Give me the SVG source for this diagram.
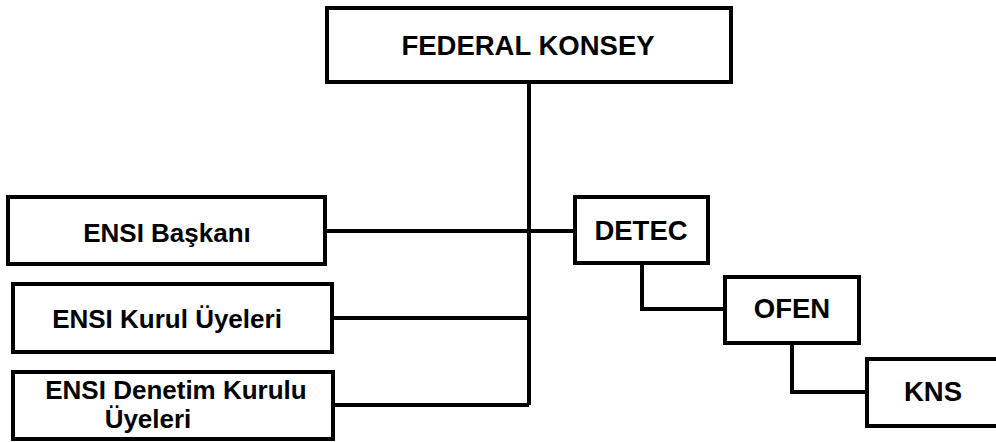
<svg xmlns="http://www.w3.org/2000/svg" width="996" height="442" viewBox="0 0 996 442">
<style>
rect{fill:#fff;stroke:#000;stroke-width:4}
.c path{fill:none;stroke:#000;stroke-width:4}
text{font-family:"Liberation Sans",Arial,sans-serif;font-weight:bold;fill:#000;text-anchor:middle}
.a{font-size:27.5px}
.b{font-size:26px}
</style>
<rect width="996" height="442" style="stroke:none"/>
<g class="c">
<path d="M529 82V405"/>
<path d="M325 231H575"/>
<path d="M332 318H529"/>
<path d="M332 405H529"/>
<path d="M642 263V309H725"/>
<path d="M792 343V392H867"/>
</g>
<g id="federal"><rect x="327" y="8" width="404" height="74"/><text class="a" x="528" y="55">FEDERAL KONSEY</text></g>
<g id="baskan"><rect x="8" y="197" width="317" height="67"/><text class="b" x="167" y="242">ENSI Başkanı</text></g>
<g id="kurul"><rect x="13" y="284" width="319" height="68"/><text class="b" x="167" y="328">ENSI Kurul Üyeleri</text></g>
<g id="denetim"><rect x="13" y="372" width="320" height="67"/><text class="b" x="176" y="399">ENSI Denetim Kurulu</text><text class="b" x="148" y="428">Üyeleri</text></g>
<g id="detec"><rect x="575" y="197" width="133" height="66"/><text class="a" x="641" y="240">DETEC</text></g>
<g id="ofen"><rect x="725" y="277" width="134" height="66"/><text class="a" x="792" y="318">OFEN</text></g>
<g id="kns"><rect x="867" y="359" width="140" height="67"/><text class="a" x="933" y="401">KNS</text></g>
</svg>
